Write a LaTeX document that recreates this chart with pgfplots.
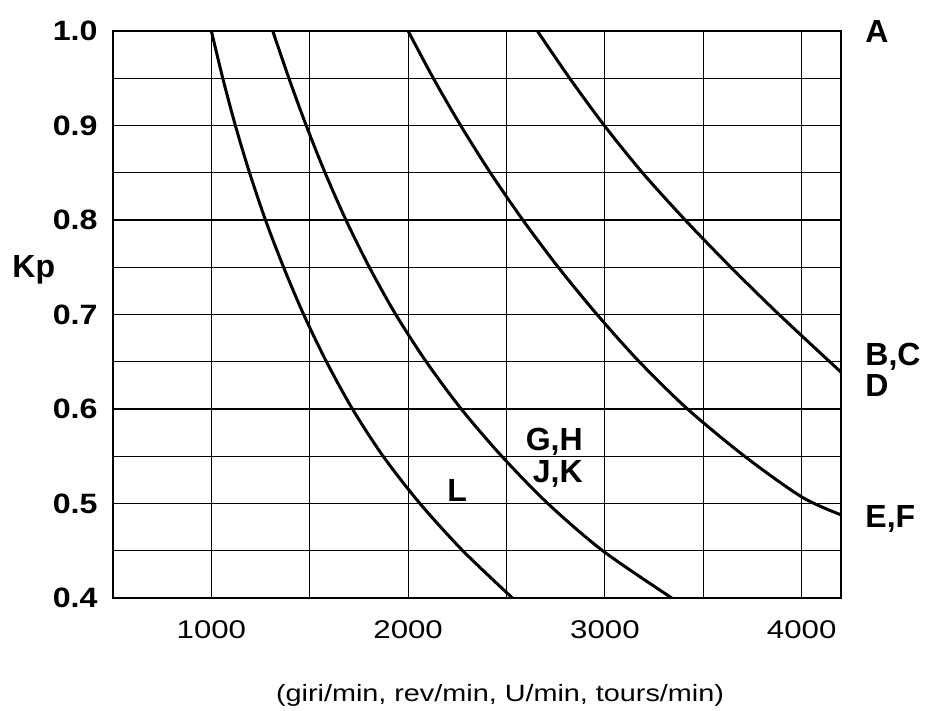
\documentclass[border=0pt]{standalone}
\usepackage{fontspec}
\setmainfont{Liberation Sans}
\newfontfamily\xfont{Liberation Sans}[FakeStretch=1.22]
\newfontfamily\yfont{Liberation Sans}[FakeStretch=1.15]
\usepackage{pgfplots}
\pgfplotsset{compat=1.18}

\begin{document}
\begin{tikzpicture}
\path[use as bounding box] (-56.5pt,-56.5pt) rectangle (409pt,299pt);
\begin{axis}[
    at={(0,0)}, anchor=south west,
    scale only axis,
    width=364pt, height=283.5pt,
    xmin=500, xmax=4200,
    ymin=0.4, ymax=1.0,
    xtick={1000,2000,3000,4000},
    minor xtick={1500,2500,3500},
    ytick={0.4,0.5,0.6,0.7,0.8,0.9,1.0},
    minor ytick={0.45,0.55,0.65,0.75,0.85,0.95},
    scaled x ticks=false,
    grid=both,
    grid style={black, line width=0.6pt},
    minor grid style={black, line width=0.6pt},
    major tick length=0pt, minor tick length=0pt,
    axis line style={line width=1.3pt},
    /pgf/number format/assume math mode=true,
    /pgf/number format/1000 sep={},
    xticklabel style={font=\xfont\fontsize{12.8}{14}\selectfont,
                      inner sep=0pt, anchor=north, yshift=-11pt},
    yticklabel style={font=\yfont\bfseries\fontsize{14}{16}\selectfont,
                      inner sep=0pt, anchor=east, xshift=-7.5pt,
                      /pgf/number format/.cd, fixed, fixed zerofill, precision=1},
    clip=false,
]
% curve L
\addplot[black, line width=1.5pt, smooth] coordinates {
  (1000,1.0) (1058,0.95) (1122,0.9) (1194,0.85) (1275,0.8) (1367,0.75)
  (1469,0.7) (1585,0.65) (1717,0.6) (1873,0.55) (2060,0.5) (2278,0.45) (2530,0.4)};
% curve G,H / J,K
\addplot[black, line width=1.5pt, smooth] coordinates {
  (1312,1.0) (1394,0.95) (1482,0.9) (1578,0.85) (1684,0.8) (1803,0.75)
  (1937,0.7) (2092,0.65) (2270,0.6) (2476,0.55) (2710,0.5) (2989,0.45) (3340,0.4)};
% curve E,F
\addplot[black, line width=1.5pt, smooth] coordinates {
  (2000,1.0) (2128,0.95) (2267,0.9) (2418,0.85) (2583,0.8) (2763,0.75)
  (2960,0.7) (3175,0.65) (3420,0.6) (3710,0.55) (4000,0.507) (4200,0.488)};
% curve B,C
\addplot[black, line width=1.5pt, smooth] coordinates {
  (2657,1.0) (2821,0.95) (2997,0.9) (3191,0.85) (3408,0.8) (3640,0.75)
  (3885,0.7) (4200,0.639)};

\begin{scope}[every node/.style={inner sep=0pt, font=\bfseries\fontsize{16}{18}\selectfont}]
\node[anchor=base west] at (axis cs:4322,0.988) {A};
\node[anchor=base west] at (axis cs:4322,0.6465) {B,C};
\node[anchor=base west] at (axis cs:4322,0.6127) {D};
\node[anchor=base west] at (axis cs:4322,0.475) {E,F};
\node[anchor=base east] at (axis cs:2889,0.5566) {G,H};
\node[anchor=base east] at (axis cs:2889,0.5217) {J,K};
\node[anchor=base west] at (axis cs:2197,0.5016) {L};
\node[anchor=base west] at (axis cs:-13,0.7396) {Kp};
\end{scope}
\node[inner sep=0pt, anchor=base, font=\xfont\fontsize{11.8}{14}\selectfont]
  at (axis cs:2467,0.29) {(giri/min, rev/min, U/min, tours/min)};
\end{axis}
\end{tikzpicture}
\end{document}
